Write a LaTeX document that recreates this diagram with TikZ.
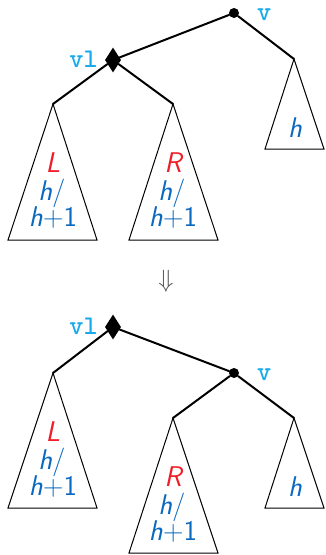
\documentclass[tikz,border=0pt]{standalone}
\usetikzlibrary{shapes.geometric}
\definecolor{vcyan}{RGB}{25,170,235}
\definecolor{hblue}{RGB}{10,105,190}
\definecolor{lred}{RGB}{240,30,40}
\definecolor{arrgray}{RGB}{80,80,80}
\tikzset{
  edge/.style={line width=2pt, line cap=round},
  tri/.style={draw, line width=1pt, line join=miter},
  dotnode/.style={circle, fill=black, inner sep=0pt, minimum size=10pt},
  dianode/.style={diamond, fill=black, inner sep=0pt, minimum width=16pt, minimum height=25pt},
  vlabel/.style={text=vcyan, font=\fontsize{27}{28}\selectfont\ttfamily\bfseries, inner sep=0pt},
  sublabel/.style={inner sep=0pt, anchor=base, font=\fontsize{28.5}{30}\selectfont\sffamily},
  redl/.style={sublabel, text=lred},
  bluel/.style={sublabel, text=hblue},
}
\newcommand{\hslash}{{\itshape h}/}
\newcommand{\hplus}{{\itshape h}+1}
\begin{document}
\begin{tikzpicture}[x=1pt,y=-1pt]
\useasboundingbox (0,0) rectangle (325,555);
% ---------- top tree ----------
\node[dotnode] (v1) at (234,13) {};
\node[vlabel, anchor=base west] (v1l) at (257,20) {v};
\node[dianode] (vl1) at (113,60) {};
\node[vlabel, anchor=base east] (vl1l) at (98,67) {vl};
\coordinate (L1) at (53,104);
\coordinate (R1) at (173,104);
\coordinate (H1) at (294,59);
\draw[edge] (v1) -- (vl1);
\draw[edge] (v1) -- (H1);
\draw[edge] (vl1) -- (L1);
\draw[edge] (vl1) -- (R1);
\draw[tri] (L1) -- (8,240) -- (97,240) -- cycle;
\draw[tri] (R1) -- (129,240) -- (218,240) -- cycle;
\draw[tri] (H1) -- (265,149) -- (324,149) -- cycle;
\node[redl] (L1t) at (53,172) {\itshape L};
\node[bluel] (L1a) at (52,200) {\hslash};
\node[bluel] (L1b) at (53,226) {\hplus};
\node[redl] (R1t) at (173,172) {\itshape R};
\node[bluel] (R1a) at (172,200) {\hslash};
\node[bluel] (R1b) at (173,226) {\hplus};
\node[bluel] (H1t) at (295,137) {\itshape h};
% ---------- arrow ----------
\node[text=arrgray, inner sep=0pt, font=\fontsize{30}{30}\selectfont] (arr) at (166,281) {$\Downarrow$};
% ---------- bottom tree ----------
\node[dianode] (vl2) at (113,327) {};
\node[vlabel, anchor=base east] (vl2l) at (98,334) {vl};
\node[dotnode] (v2) at (234,373) {};
\node[vlabel, anchor=base west] (v2l) at (257,380) {v};
\coordinate (L2) at (53,373);
\coordinate (R2) at (173,418);
\coordinate (H2) at (294,418);
\draw[edge] (vl2) -- (L2);
\draw[edge] (vl2) -- (v2);
\draw[edge] (v2) -- (R2);
\draw[edge] (v2) -- (H2);
\draw[tri] (L2) -- (8,508) -- (97,508) -- cycle;
\draw[tri] (R2) -- (129,553) -- (218,553) -- cycle;
\draw[tri] (H2) -- (265,508) -- (324,508) -- cycle;
\node[redl] (L2t) at (53,441) {\itshape L};
\node[bluel] (L2a) at (52,469) {\hslash};
\node[bluel] (L2b) at (53,495) {\hplus};
\node[redl] (R2t) at (173,486) {\itshape R};
\node[bluel] (R2a) at (172,514) {\hslash};
\node[bluel] (R2b) at (173,540) {\hplus};
\node[bluel] (H2t) at (295,496) {\itshape h};
\end{tikzpicture}
\end{document}
